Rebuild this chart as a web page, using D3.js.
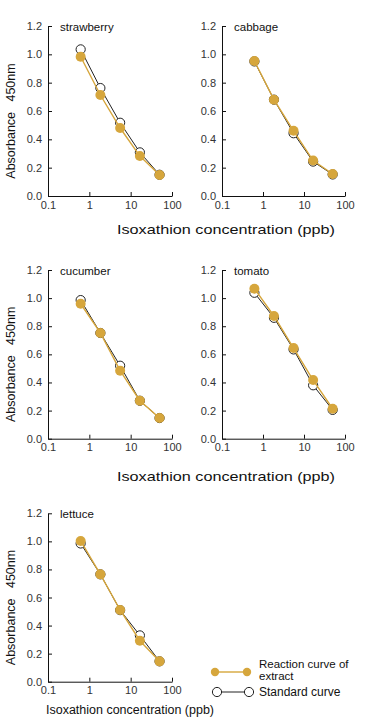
<!DOCTYPE html>
<html><head><meta charset="utf-8">
<script src="https://cdn.jsdelivr.net/npm/d3@7/dist/d3.min.js"></script>
<style>body{margin:0;background:#fff}svg{display:block}</style>
</head><body>
<svg id="c" width="368" height="720"></svg>
<script>
const concentrations = [0.617, 1.85, 5.56, 16.7, 50];
const crops = ["strawberry", "cabbage", "cucumber", "tomato", "lettuce"];
const standardValues = [
  [1.035, 0.762, 0.517, 0.308, 0.150],
  [0.950, 0.680, 0.443, 0.243, 0.152],
  [0.986, 0.752, 0.519, 0.270, 0.147],
  [1.038, 0.860, 0.635, 0.380, 0.205],
  [0.985, 0.765, 0.510, 0.330, 0.145]
];
const extractValues = [
  [0.983, 0.713, 0.480, 0.282, 0.148],
  [0.953, 0.680, 0.460, 0.250, 0.155],
  [0.960, 0.752, 0.484, 0.270, 0.147],
  [1.067, 0.873, 0.645, 0.417, 0.213],
  [1.003, 0.765, 0.511, 0.292, 0.145]
];
const xTicks = [0.1, 1, 10, 100];
const xTickLabels = ["0.1", "1", "10", "100"];
const yTicks = [0, 0.2, 0.4, 0.6, 0.8, 1.0, 1.2];
const legendLabels = [["Reaction curve of", "extract"], ["Standard curve"]];

const gold = "#d6a63c";
const font = "'Liberation Sans', Arial, Helvetica, sans-serif";
const svg = d3.select("#c");

const panels = [
  {x0: 48, x1: 172, y0: 26, y1: 196},
  {x0: 222, x1: 345, y0: 26, y1: 196},
  {x0: 48, x1: 172, y0: 270, y1: 438.7},
  {x0: 222, x1: 345, y0: 270, y1: 438.7},
  {x0: 48, x1: 172, y0: 513.3, y1: 681.7}
];

crops.forEach((name, i) => {
  const p = panels[i];
  const x = d3.scaleLog().domain([0.1, 100]).range([p.x0, p.x1]);
  const y = d3.scaleLinear().domain([0, 1.2]).range([p.y1, p.y0]);
  const g = svg.append("g");

  const ax = g.append("g").attr("transform", `translate(0,${p.y1})`)
    .call(d3.axisBottom(x).tickValues(xTicks).tickFormat((d, k) => xTickLabels[k]).tickSize(-4).tickSizeOuter(0).tickPadding(5));
  const ay = g.append("g").attr("transform", `translate(${p.x0},0)`)
    .call(d3.axisLeft(y).tickValues(yTicks).tickFormat(d3.format(".1f")).tickSize(-4).tickSizeOuter(0).tickPadding(6));
  [ax, ay].forEach(a => {
    a.selectAll("path,line").attr("stroke", "#111").attr("stroke-width", 1);
    a.selectAll("text").attr("font-family", font).attr("font-size", 11).attr("fill", "#333");
  });

  g.append("text").attr("x", p.x0 + 12).attr("y", p.y0 + 4.5)
    .attr("font-family", font).attr("font-size", 11.5).attr("fill", "#111").text(name);

  const line = d3.line().x((d, k) => x(concentrations[k])).y(d => y(d));
  // standard
  g.append("path").datum(standardValues[i]).attr("d", line)
    .attr("fill", "none").attr("stroke", "#222").attr("stroke-width", 1);
  g.selectAll(".s").data(standardValues[i]).enter().append("circle")
    .attr("cx", (d, k) => x(concentrations[k])).attr("cy", d => y(d)).attr("r", 4.6)
    .attr("fill", "#fff").attr("stroke", "#222").attr("stroke-width", 1);
  // extract
  g.append("path").datum(extractValues[i]).attr("d", line)
    .attr("fill", "none").attr("stroke", gold).attr("stroke-width", 1.4);
  g.selectAll(".e").data(extractValues[i]).enter().append("circle")
    .attr("cx", (d, k) => x(concentrations[k])).attr("cy", d => y(d)).attr("r", 5)
    .attr("fill", gold);

  if (p.x0 < 100) {
    svg.append("text")
      .attr("transform", `translate(15,${(p.y0 + p.y1) / 2 + 10}) rotate(-90)`)
      .attr("text-anchor", "middle").attr("font-family", font).attr("font-size", 12.5)
      .attr("fill", "#111").attr("xml:space", "preserve").text("Absorbance   450nm");
  }
});

// x labels
[[226, 234, 218, 13.5], [226, 481, 218, 13.5], [130, 714, 168, 12.3]].forEach(([cx, by, w, fs]) => {
  svg.append("text").attr("x", cx - w / 2).attr("y", by)
    .attr("font-family", font).attr("font-size", fs).attr("fill", "#111")
    .attr("textLength", w).attr("lengthAdjust", "spacingAndGlyphs")
    .text("Isoxathion concentration (ppb)");
});

// legend
const lg = svg.append("g");
lg.append("line").attr("x1", 215).attr("x2", 247).attr("y1", 672).attr("y2", 672).attr("stroke", gold).attr("stroke-width", 1.4);
[215, 247].forEach(cx => lg.append("circle").attr("cx", cx).attr("cy", 672).attr("r", 4.2).attr("fill", gold));
lg.append("line").attr("x1", 217).attr("x2", 249).attr("y1", 692).attr("y2", 692).attr("stroke", "#222").attr("stroke-width", 1);
[217, 249].forEach(cx => lg.append("circle").attr("cx", cx).attr("cy", 692).attr("r", 4.6).attr("fill", "#fff").attr("stroke", "#222"));
lg.append("text").attr("x", 259).attr("y", 668).attr("font-family", font).attr("font-size", 11.5).attr("fill", "#111").text(legendLabels[0][0]);
lg.append("text").attr("x", 259).attr("y", 680).attr("font-family", font).attr("font-size", 11.5).attr("fill", "#111").text(legendLabels[0][1]);
lg.append("text").attr("x", 259).attr("y", 696).attr("font-family", font).attr("font-size", 12).attr("fill", "#111").text(legendLabels[1][0]);
</script>
</body></html>
